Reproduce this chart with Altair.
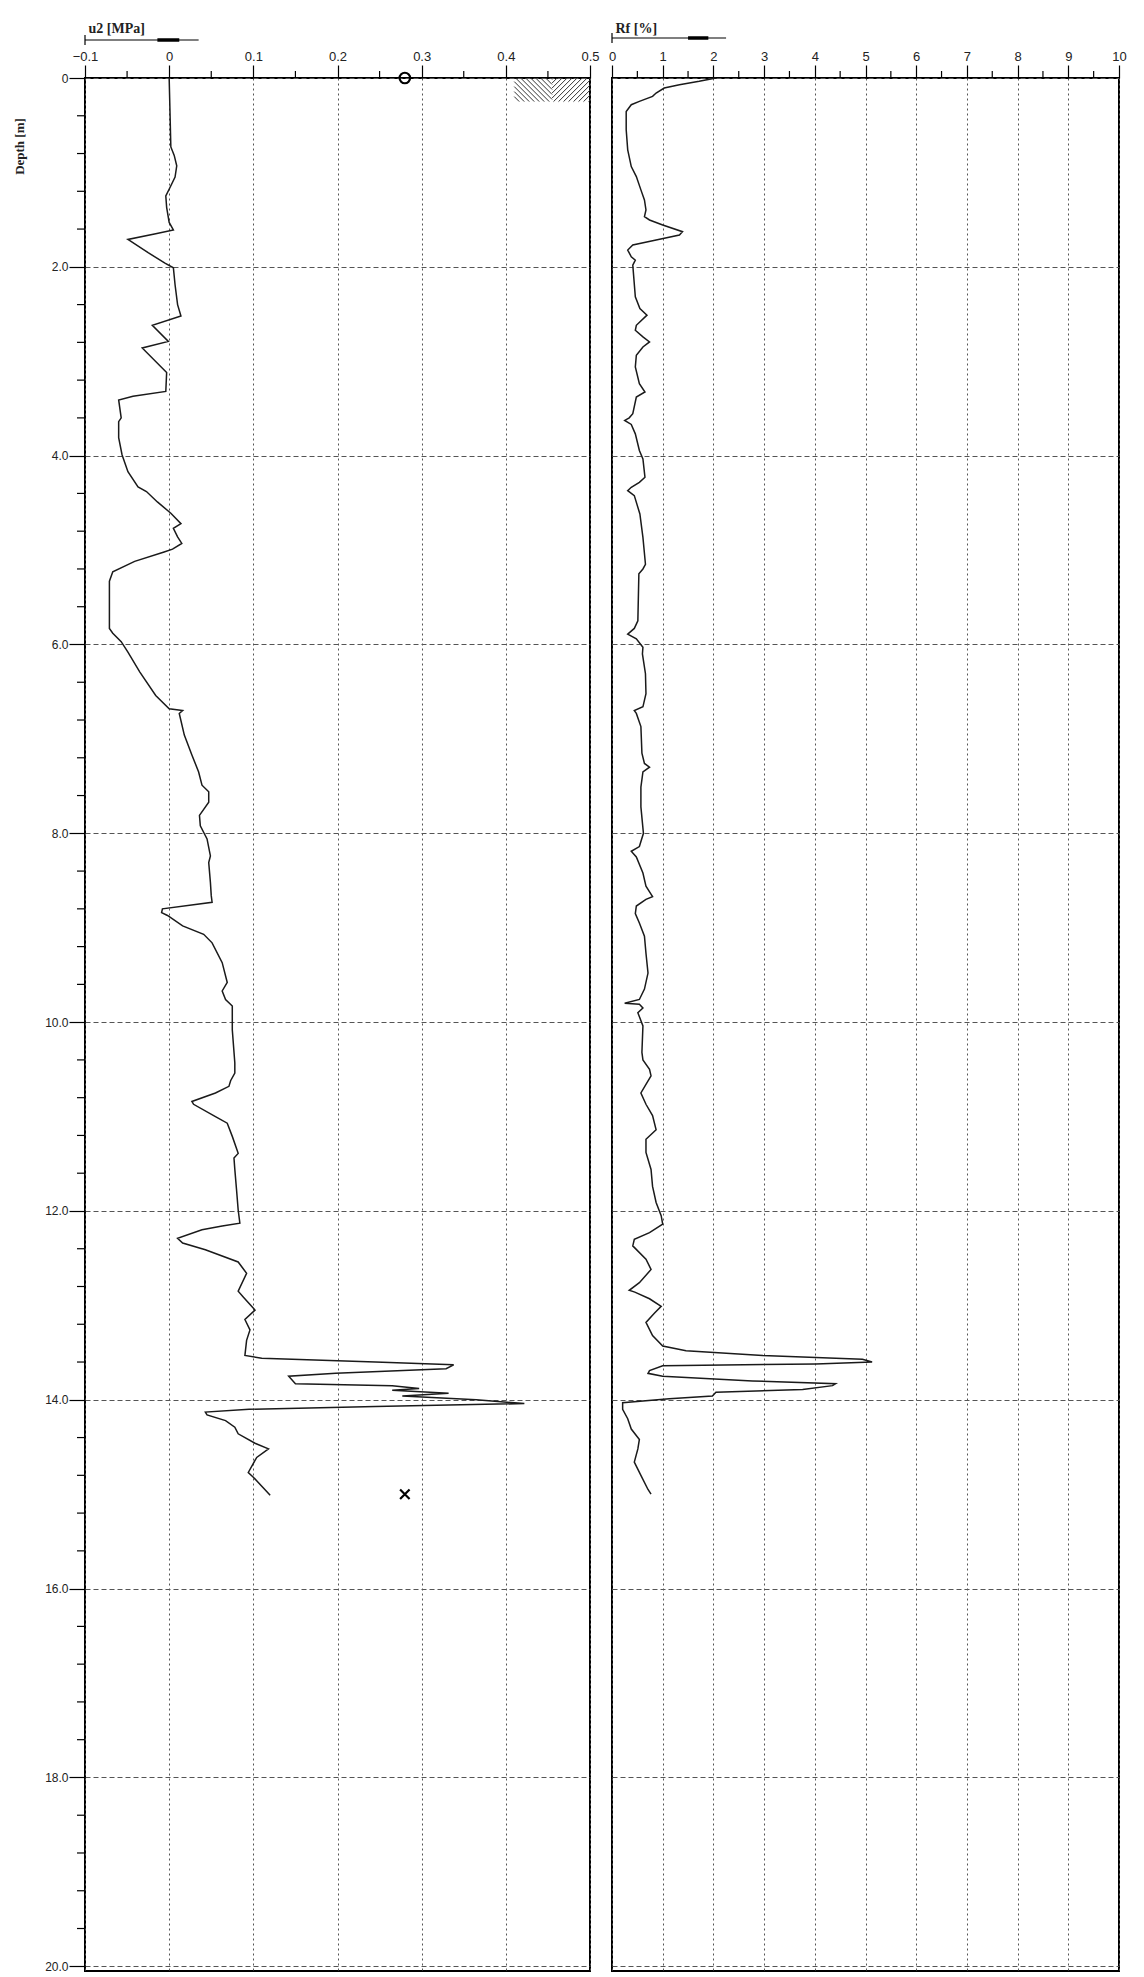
import altair as alt
import pandas as pd
import numpy as np

# ---------------- data ----------------
u2_depth = [0.00, 0.73, 0.82, 0.93, 1.05, 1.16, 1.25, 1.37, 1.53, 1.61, 1.65, 1.71, 1.85, 1.96, 2.01,
            2.19, 2.40, 2.52, 2.62, 2.79, 2.86, 3.12, 3.32, 3.37, 3.41, 3.60, 3.64, 3.81, 3.99, 4.17,
            4.33, 4.38, 4.49, 4.61, 4.72, 4.77, 4.86, 4.93, 4.99, 5.02, 5.12, 5.23, 5.33, 5.83, 5.88,
            5.97, 6.08, 6.29, 6.54, 6.68, 6.70, 6.73, 6.96, 7.17, 7.35, 7.49, 7.56, 7.67, 7.81, 7.92,
            8.06, 8.24, 8.31, 8.52, 8.66, 8.73, 8.80, 8.84, 8.87, 8.98, 9.07, 9.16, 9.37, 9.58, 9.67,
            9.76, 9.83, 10.08, 10.43, 10.54, 10.62, 10.68, 10.75, 10.84, 10.87, 11.00, 11.07, 11.21,
            11.39, 11.44, 11.56, 11.77, 11.99, 12.13, 12.16, 12.20, 12.29, 12.34, 12.41, 12.54, 12.66,
            12.85, 12.91, 13.05, 13.15, 13.26, 13.37, 13.53, 13.56, 13.60, 13.63, 13.67, 13.72, 13.75,
            13.83, 13.85, 13.88, 13.90, 13.93, 13.96, 14.00, 14.04, 14.07, 14.10, 14.13, 14.16, 14.22,
            14.29, 14.36, 14.46, 14.52, 14.61, 14.77, 14.82, 15.01]
u2_vals = [0.000, 0.002, 0.006, 0.009, 0.007, 0.001, -0.004, -0.003, 0.000, 0.005, -0.016, -0.049, -0.025,
           -0.005, 0.005, 0.007, 0.010, 0.014, -0.020, -0.001, -0.032, -0.003, -0.004, -0.043, -0.060,
           -0.057, -0.060, -0.060, -0.056, -0.049, -0.037, -0.027, -0.014, 0.002, 0.014, 0.005, 0.010,
           0.015, 0.004, -0.006, -0.041, -0.067, -0.071, -0.071, -0.067, -0.057, -0.049, -0.035, -0.016,
           0.000, 0.016, 0.012, 0.018, 0.027, 0.035, 0.039, 0.047, 0.047, 0.036, 0.037, 0.045, 0.049,
           0.047, 0.049, 0.050, 0.051, -0.008, -0.009, -0.002, 0.016, 0.041, 0.051, 0.063, 0.069, 0.063,
           0.067, 0.075, 0.075, 0.078, 0.078, 0.073, 0.071, 0.055, 0.027, 0.029, 0.055, 0.069, 0.075,
           0.082, 0.077, 0.078, 0.080, 0.082, 0.084, 0.063, 0.039, 0.010, 0.016, 0.043, 0.082, 0.092,
           0.082, 0.088, 0.102, 0.090, 0.096, 0.092, 0.090, 0.110, 0.245, 0.338, 0.329, 0.198, 0.142,
           0.150, 0.265, 0.297, 0.265, 0.332, 0.277, 0.365, 0.422, 0.245, 0.095, 0.043, 0.045, 0.067,
           0.078, 0.082, 0.102, 0.118, 0.104, 0.094, 0.100, 0.120]

rf_depth = [0.000, 0.035, 0.071, 0.106, 0.159, 0.195, 0.248, 0.283, 0.354, 0.548, 0.761, 0.938, 1.044,
            1.185, 1.292, 1.398, 1.469, 1.504, 1.557, 1.628, 1.663, 1.716, 1.769, 1.822, 1.893, 1.929,
            1.982, 2.318, 2.442, 2.512, 2.619, 2.672, 2.742, 2.795, 2.849, 2.937, 3.061, 3.238, 3.326,
            3.379, 3.556, 3.599, 3.627, 3.669, 3.769, 3.945, 4.034, 4.229, 4.282, 4.335, 4.370, 4.423,
            4.618, 4.865, 5.15, 5.20, 5.25, 5.75, 5.83, 5.89, 5.94, 6.03, 6.10, 6.31, 6.52, 6.66, 6.70,
            6.73, 6.87, 7.15, 7.26, 7.30, 7.35, 7.51, 7.72, 8.00, 8.14, 8.19, 8.25, 8.42, 8.56, 8.67,
            8.70, 8.77, 8.85, 8.95, 9.09, 9.27, 9.48, 9.65, 9.76, 9.80, 9.81, 9.85, 9.90, 10.04, 10.32,
            10.40, 10.50, 10.57, 10.66, 10.75, 10.87, 10.99, 11.14, 11.24, 11.38, 11.56, 11.74, 11.91,
            12.05, 12.14, 12.23, 12.30, 12.37, 12.51, 12.62, 12.76, 12.84, 12.86, 12.93, 13.01, 13.08,
            13.18, 13.32, 13.43, 13.48, 13.53, 13.57, 13.60, 13.62, 13.64, 13.69, 13.72, 13.75, 13.80,
            13.83, 13.85, 13.89, 13.92, 13.96, 13.99, 14.03, 14.10, 14.20, 14.31, 14.42, 14.52, 14.66,
            14.80, 14.95, 15.00]
rf_vals = [2.05, 1.72, 1.33, 1.03, 0.87, 0.80, 0.54, 0.38, 0.28, 0.28, 0.31, 0.38, 0.48, 0.57, 0.64, 0.67,
           0.64, 0.74, 1.00, 1.39, 1.33, 0.87, 0.41, 0.31, 0.38, 0.46, 0.41, 0.46, 0.55, 0.69, 0.48, 0.46,
           0.61, 0.74, 0.61, 0.48, 0.46, 0.54, 0.65, 0.48, 0.41, 0.34, 0.25, 0.38, 0.46, 0.54, 0.61, 0.65,
           0.54, 0.38, 0.31, 0.44, 0.55, 0.61, 0.66, 0.61, 0.53, 0.51, 0.44, 0.31, 0.48, 0.61, 0.60, 0.66,
           0.67, 0.61, 0.44, 0.48, 0.57, 0.59, 0.64, 0.74, 0.61, 0.57, 0.57, 0.62, 0.54, 0.38, 0.48, 0.61,
           0.67, 0.80, 0.67, 0.48, 0.46, 0.54, 0.64, 0.67, 0.71, 0.64, 0.54, 0.25, 0.54, 0.61, 0.51, 0.61,
           0.59, 0.61, 0.74, 0.77, 0.67, 0.57, 0.67, 0.80, 0.87, 0.67, 0.67, 0.77, 0.80, 0.87, 0.97, 1.00,
           0.74, 0.44, 0.41, 0.67, 0.77, 0.54, 0.34, 0.45, 0.74, 0.97, 0.84, 0.67, 0.80, 1.00, 1.46, 2.97,
           4.94, 5.13, 4.02, 1.00, 0.74, 0.71, 1.00, 2.77, 4.41, 4.35, 3.76, 2.05, 1.98, 1.13, 0.21, 0.21,
           0.31, 0.38, 0.54, 0.51, 0.44, 0.57, 0.71, 0.77]

# markers (pore pressure symbols)
circle_u2 = [0.28]
circle_depth = [0.0]
cross_u2 = [0.28]
cross_depth = [15.0]

# soil hatch block at the top of the u2 panel
hatch_u2 = [0.41, 0.50]
hatch_depth = [0.0, 0.25]

# axis ticks
u2_ticks = [-0.1, 0.0, 0.1, 0.2, 0.3, 0.4, 0.5]
u2_minor = [-0.05, 0.05, 0.15, 0.25, 0.35, 0.45]
rf_ticks = [0, 1, 2, 3, 4, 5, 6, 7, 8, 9, 10]
rf_minor = [0.5, 1.5, 2.5, 3.5, 4.5, 5.5, 6.5, 7.5, 8.5, 9.5]
depth_ticks = [0, 2, 4, 6, 8, 10, 12, 14, 16, 18, 20]
depth_minor = [round(0.4 * i, 1) for i in range(1, 51) if (i % 5) != 0]

# ---------------- layout ----------------
H = 1893
WL = 505
WR = 507
DMAX = 20.05
GRIDC = "#555555"
LINEC = "#1a1a1a"
LABEL_FONT = "Liberation Sans"
TITLE_FONT = "Liberation Serif"

yscale = alt.Scale(domain=[0, DMAX], reverse=True, nice=False, zero=False)
xl_scale = alt.Scale(domain=[-0.1, 0.5], nice=False, zero=False)
xr_scale = alt.Scale(domain=[0, 10], nice=False, zero=False)

fmt_expr = "datum.value == 0 ? '0' : format(datum.value, '.1f')"

u2_df = pd.DataFrame({"depth": u2_depth, "u2": u2_vals})
rf_df = pd.DataFrame({"depth": rf_depth, "rf": rf_vals})

Y_AX_L = alt.Axis(values=depth_ticks, labelExpr=fmt_expr, grid=True, gridDash=[5, 3],
                  gridColor=GRIDC, gridWidth=1, tickSize=16, tickColor="black", tickWidth=1.2,
                  domain=False, labelFont=LABEL_FONT, labelFontSize=12, labelPadding=1,
                  labelColor="#222", title="Depth [m]", titleFont=TITLE_FONT, titleFontWeight="bold",
                  titleFontSize=13, titleAngle=270, titleX=-66, titleY=68, titleAlign="center",
                  titleBaseline="middle", titleColor="#222")
Y_AX_R = alt.Axis(values=depth_ticks, labels=False, ticks=False, domain=False, grid=True,
                  gridDash=[5, 3], gridColor=GRIDC, gridWidth=1, title=None)


def x_axis(values, label_expr, title):
    return alt.Axis(orient="top", values=values, labelExpr=label_expr, grid=True, gridDash=[2, 3],
                    gridColor=GRIDC, gridWidth=1, tickSize=13, tickColor="black", tickWidth=1.2,
                    domain=False, labelFont=LABEL_FONT, labelFontSize=13, labelPadding=2,
                    labelFlush=False, labelColor="#222", title=title, titleFont=TITLE_FONT,
                    titleFontWeight="bold", titleFontSize=14, titleAnchor="start", titleAlign="left",
                    titleX=3, titleY=-46, titleBaseline="alphabetic", titleColor="#222")


X_AX_L = x_axis(u2_ticks, fmt_expr, "u2 [MPa]")
X_AX_R = x_axis(rf_ticks, "format(datum.value, 'd')", "Rf [%]")


def XL(field):
    return alt.X(field, scale=xl_scale, axis=X_AX_L)


def XR(field):
    return alt.X(field, scale=xr_scale, axis=X_AX_R)


def YL(field):
    return alt.Y(field, scale=yscale, axis=Y_AX_L)


def YR(field):
    return alt.Y(field, scale=yscale, axis=Y_AX_R)


# ---- left panel (u2) ----
line_l = alt.Chart(u2_df).mark_line(color=LINEC, strokeWidth=1.5).encode(
    x=XL("u2:Q"), y=YL("depth:Q"), order="depth:Q")

minor_x_l = alt.Chart(pd.DataFrame({"v": u2_minor})).mark_rule(color="black", strokeWidth=1.2).encode(
    x=XL("v:Q"), y=alt.value(-7), y2=alt.value(0))
minor_y_l = alt.Chart(pd.DataFrame({"d": depth_minor})).mark_rule(color="black", strokeWidth=1.2).encode(
    y=YL("d:Q"), x=alt.value(-8), x2=alt.value(0))

circ = alt.Chart(pd.DataFrame({"u2": circle_u2, "depth": circle_depth})).mark_point(
    shape="circle", size=110, filled=False, color="black", strokeWidth=2.2, opacity=1).encode(
    x=XL("u2:Q"), y=YL("depth:Q"))
cross = alt.Chart(pd.DataFrame({"u2": cross_u2, "depth": cross_depth})).mark_point(
    shape="M-1,-1L1,1M-1,1L1,-1", size=90, filled=False, color="black", strokeWidth=2.2, opacity=1).encode(
    x=XL("u2:Q"), y=YL("depth:Q"))

# hatch lines built from the hatch block bounds (45 degrees on screen)
xa, xb = hatch_u2
da, db = hatch_depth
px_per_u = WL / 0.6
px_per_m = H / DMAX
du = (db - da) * px_per_m / px_per_u
xm = (xa + xb) / 2
segs = []
step = 5.0 / px_per_u
for s in np.arange(xa - du, xm, step):  # "\" lines on the left half
    x0, d0, x1, d1 = s, da, s + du, db
    if x0 < xa:
        d0 = da + (xa - x0) / du * (db - da); x0 = xa
    if x1 > xm:
        d1 = da + (xm - s) / du * (db - da); x1 = xm
    if x1 > x0:
        segs.append((x0, d0, x1, d1))
for s in np.arange(xm, xb + du, step):  # "/" lines on the right half
    x0, d0, x1, d1 = s, da, s - du, db
    if x0 > xb:
        d0 = da + (x0 - xb) / du * (db - da); x0 = xb
    if x1 < xm:
        d1 = da + (s - xm) / du * (db - da); x1 = xm
    if x0 > x1:
        segs.append((x0, d0, x1, d1))
hatch_df = pd.DataFrame(segs, columns=["x0", "d0", "x1", "d1"])
hatch = alt.Chart(hatch_df).mark_rule(color="#333", strokeWidth=1).encode(
    x=XL("x0:Q"), x2="x1:Q", y=YL("d0:Q"), y2="d1:Q")

# header arrow for u2
arr_l = pd.DataFrame({"a": [-0.1], "b": [0.035], "t0": [-0.014], "t1": [0.012]})
arrow_l_line = alt.Chart(arr_l).mark_rule(color="black", strokeWidth=1.2).encode(
    x=XL("a:Q"), x2="b:Q", y=alt.value(-38))
arrow_l_thick = alt.Chart(arr_l).mark_rule(color="black", strokeWidth=3.5).encode(
    x=XL("t0:Q"), x2="t1:Q", y=alt.value(-38))
arrow_l_tick = alt.Chart(arr_l).mark_rule(color="black", strokeWidth=1.2).encode(
    x=XL("a:Q"), y=alt.value(-43), y2=alt.value(-33))

left = alt.layer(line_l, minor_x_l, minor_y_l, hatch, circ, cross,
                 arrow_l_line, arrow_l_thick, arrow_l_tick).properties(width=WL, height=H)

# ---- right panel (Rf) ----
line_r = alt.Chart(rf_df).mark_line(color=LINEC, strokeWidth=1.5).encode(
    x=XR("rf:Q"), y=YR("depth:Q"), order="depth:Q")
minor_x_r = alt.Chart(pd.DataFrame({"v": rf_minor})).mark_rule(color="black", strokeWidth=1.2).encode(
    x=XR("v:Q"), y=alt.value(-7), y2=alt.value(0))

arr_r = pd.DataFrame({"a": [0.0], "b": [2.25], "t0": [1.5], "t1": [1.9]})
arrow_r_line = alt.Chart(arr_r).mark_rule(color="black", strokeWidth=1.2).encode(
    x=XR("a:Q"), x2="b:Q", y=alt.value(-40))
arrow_r_thick = alt.Chart(arr_r).mark_rule(color="black", strokeWidth=3.5).encode(
    x=XR("t0:Q"), x2="t1:Q", y=alt.value(-40))
arrow_r_tick = alt.Chart(arr_r).mark_rule(color="black", strokeWidth=1.2).encode(
    x=XR("a:Q"), y=alt.value(-45), y2=alt.value(-35))

right = alt.layer(line_r, minor_x_r, arrow_r_line, arrow_r_thick, arrow_r_tick).properties(
    width=WR, height=H)

chart = alt.hconcat(left, right, spacing=22, bounds="flush").properties(
    padding={"left": 4, "top": 12, "right": 5, "bottom": 2}, background="white"
).configure_view(stroke="black", strokeWidth=2)

chart.save("out.html", embed_options={"renderer": "svg", "actions": False})
